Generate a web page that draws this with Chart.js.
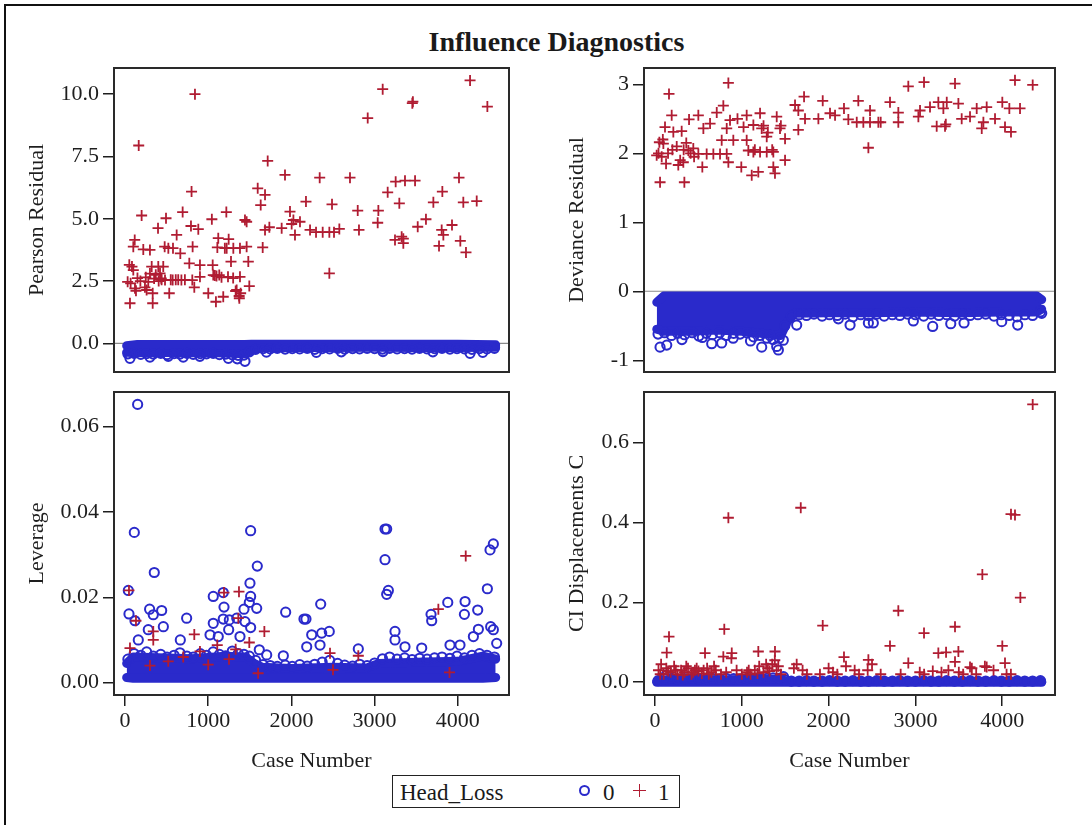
<!DOCTYPE html>
<html>
<head>
<meta charset="utf-8">
<title>Influence Diagnostics</title>
<script src="https://cdn.jsdelivr.net/npm/chart.js@4.4.1/dist/chart.umd.min.js"></script>
<style>
  html, body { margin: 0; padding: 0; background: #fff; }
  body { width: 1092px; height: 825px; position: relative; overflow: hidden; font-family: "Liberation Serif", "Times New Roman", serif; color: #1a1a1a; }
  .frame { position: absolute; left: 4px; top: 4px; width: 1200px; height: 900px; border-left: 2px solid #111; border-top: 2px solid #111; }
  .title { position: absolute; left: 0; width: 1113px; top: 28px; text-align: center; font-weight: bold; font-size: 28px; line-height: 28px; }
  canvas.panel { position: absolute; }
  .legend { position: absolute; left: 392px; top: 775px; width: 288px; height: 33px; border: 1.5px solid #222; box-sizing: border-box; font-size: 23px; line-height: 23px; }
  .legend span { position: absolute; }
  .lg-circle { width: 7px; height: 7px; border: 2px solid #2a2acb; border-radius: 50%; }
  .lg-plus { width: 13px; height: 13px; }
  .lg-plus::before, .lg-plus::after { content: ""; position: absolute; background: #b01c32; }
  .lg-plus::before { left: 0; top: 5.5px; width: 13px; height: 1.8px; }
  .lg-plus::after { left: 5.5px; top: 0; width: 1.8px; height: 13px; }
</style>
</head>
<body>
<div class="frame"></div>
<div class="title">Influence Diagnostics</div>
<div class="legend">
  <span style="left:7px;top:5px">Head_Loss</span>
  <span class="lg-circle" style="left:186px;top:9px"></span>
  <span style="left:210px;top:5px">0</span>
  <span class="lg-plus" style="left:240px;top:8px"></span>
  <span style="left:265px;top:5px">1</span>
</div>
<script>
const caseTicks = [0, 1000, 2000, 3000, 4000];
const pearsonTicks = [0, 2.5, 5, 7.5, 10];
const devianceTicks = [-1, 0, 1, 2, 3];
const leverageTicks = [0, 0.02, 0.04, 0.06];
const ciTicks = [0, 0.2, 0.4, 0.6];

// Head_Loss = 0: the dense band (centre envelope) + ring marks on its ragged edge
const edgeCases = [35, 110, 190, 260, 340, 430, 505, 590, 660, 745,
  820, 905, 980, 1060, 1135, 1210, 1290, 1360, 1430, 1495,
  1570, 1660, 1745, 1830, 1925, 2010, 2100, 2190, 2280, 2370,
  2460, 2555, 2640, 2735, 2820, 2910, 3000, 3095, 3180, 3270,
  3360, 3450, 3540, 3630, 3720, 3810, 3905, 3990, 4080, 4170,
  4260, 4350, 4440];

const pearsonBandCase = [20, 150, 400, 700, 1000, 1300, 1440, 1520, 1620, 2000, 2500, 3000, 3500, 4000, 4455];
const pearsonBandTop = [-0.10, -0.05, -0.05, -0.05, -0.05, -0.05, -0.05, -0.04, -0.04, -0.04, -0.04, -0.04, -0.04, -0.04, -0.06];
const pearsonBandBot = [-0.36, -0.38, -0.36, -0.38, -0.37, -0.40, -0.42, -0.28, -0.18, -0.17, -0.17, -0.16, -0.17, -0.17, -0.16];
const pearsonEdge = [-0.42, -0.40, -0.44, -0.41, -0.43, -0.40, -0.45, -0.41, -0.43, -0.40,
  -0.44, -0.41, -0.42, -0.40, -0.45, -0.43, -0.46, -0.48, -0.47, -0.34,
  -0.24, -0.21, -0.22, -0.20, -0.23, -0.21, -0.22, -0.20, -0.24, -0.21,
  -0.22, -0.20, -0.23, -0.21, -0.22, -0.20, -0.21, -0.23, -0.20, -0.22,
  -0.21, -0.23, -0.20, -0.22, -0.21, -0.20, -0.23, -0.21, -0.22, -0.24,
  -0.21, -0.22, -0.20];
const pearsonBlue = [[60, -0.60], [300, -0.55], [520, -0.52], [700, -0.55], [900, -0.52], [1242, -0.60], [1350, -0.62],
  [1442, -0.72], [1700, -0.35], [2300, -0.36], [2600, -0.34], [3100, -0.33], [3700, -0.34], [4147, -0.40], [4300, -0.36]];

const devianceBandCase = [20, 100, 400, 700, 1000, 1300, 1450, 1520, 1600, 2000, 2500, 3000, 3500, 4000, 4400, 4455];
const devianceBandTop = [-0.16, -0.07, -0.07, -0.07, -0.07, -0.07, -0.07, -0.07, -0.07, -0.07, -0.07, -0.07, -0.07, -0.07, -0.07, -0.12];
const devianceBandBot = [-0.55, -0.58, -0.58, -0.56, -0.58, -0.62, -0.64, -0.45, -0.32, -0.31, -0.31, -0.30, -0.31, -0.30, -0.30, -0.26];
const devianceEdge = [-0.62, -0.60, -0.64, -0.61, -0.63, -0.60, -0.65, -0.61, -0.63, -0.60,
  -0.64, -0.61, -0.62, -0.60, -0.66, -0.64, -0.68, -0.70, -0.68, -0.50,
  -0.36, -0.34, -0.35, -0.33, -0.36, -0.34, -0.35, -0.33, -0.37, -0.34,
  -0.35, -0.33, -0.36, -0.34, -0.35, -0.33, -0.34, -0.36, -0.33, -0.35,
  -0.34, -0.36, -0.33, -0.35, -0.34, -0.33, -0.36, -0.34, -0.35, -0.37,
  -0.34, -0.35, -0.30];
const devianceBlue = [[58, -0.81], [135, -0.78], [310, -0.70], [545, -0.67], [653, -0.76], [768, -0.75], [900, -0.68],
  [1100, -0.72], [1229, -0.81], [1325, -0.64], [1402, -0.80], [1421, -0.85], [1478, -0.71], [1632, -0.49],
  [2112, -0.40], [2247, -0.49], [2458, -0.46], [2515, -0.46], [2976, -0.43], [3199, -0.51], [3407, -0.47],
  [3560, -0.46], [3994, -0.44], [4178, -0.49], [4455, -0.32]];

const leverageBandCase = [20, 100, 400, 800, 1200, 1450, 1550, 1650, 2000, 2500, 2900, 3050, 3500, 4000, 4300, 4455];
const leverageBandTop = [0.0045, 0.0060, 0.0058, 0.0056, 0.0062, 0.0060, 0.0045, 0.0036, 0.0033, 0.0036, 0.0034, 0.0045, 0.0048, 0.0050, 0.0062, 0.0055];
const leverageBandBot = [0.0012, 0.0010, 0.0010, 0.0010, 0.0010, 0.0010, 0.0010, 0.0010, 0.0010, 0.0010, 0.0010, 0.0010, 0.0010, 0.0010, 0.0010, 0.0012];
const leverageEdge = [0.0055, 0.0068, 0.0064, 0.0072, 0.0062, 0.0066, 0.0060, 0.0064, 0.0070, 0.0062,
  0.0060, 0.0068, 0.0064, 0.0072, 0.0066, 0.0063, 0.0074, 0.0068, 0.0066, 0.0062,
  0.0052, 0.0042, 0.0040, 0.0038, 0.0041, 0.0038, 0.0042, 0.0039, 0.0043, 0.0048,
  0.0052, 0.0045, 0.0041, 0.0039, 0.0043, 0.0040, 0.0046, 0.0056, 0.0060, 0.0055,
  0.0058, 0.0054, 0.0057, 0.0055, 0.0058, 0.0060, 0.0057, 0.0062, 0.0058, 0.0064,
  0.0068, 0.0064, 0.0060];
const leverageBlue = [[152, 0.0652], [112, 0.0352], [352, 0.0258], [40, 0.0216], [48, 0.0161], [120, 0.0145], [296, 0.0172],
  [340, 0.0159], [441, 0.0169], [461, 0.0131], [280, 0.0124], [160, 0.0100], [741, 0.0151], [665, 0.0100],
  [1061, 0.0202], [1181, 0.0211], [1061, 0.0139], [1190, 0.0177], [1181, 0.0149], [1254, 0.0147], [1246, 0.0124],
  [1022, 0.0112], [1121, 0.0108], [1343, 0.0151], [1382, 0.0108], [1430, 0.0172], [1502, 0.0233], [1510, 0.0202],
  [1494, 0.0188], [1510, 0.0356], [1590, 0.0273], [1583, 0.0174], [1510, 0.0129], [1442, 0.0143], [1614, 0.0077],
  [1703, 0.0065], [1931, 0.0165], [1903, 0.0063], [2151, 0.0149], [2175, 0.0149], [2184, 0.0084], [2244, 0.0112],
  [2352, 0.0184], [2364, 0.0116], [2455, 0.0120], [2344, 0.0088], [2804, 0.0079], [3125, 0.0360], [3145, 0.0360],
  [3125, 0.0288], [3145, 0.0207], [3165, 0.0216], [3245, 0.0120], [3245, 0.0100], [3365, 0.0084], [3566, 0.0081],
  [3678, 0.0160], [3686, 0.0145], [3879, 0.0188], [4087, 0.0190], [4079, 0.0160], [4239, 0.0170], [4247, 0.0125],
  [4187, 0.0108], [4355, 0.0220], [4387, 0.0311], [4427, 0.0325], [4395, 0.0131], [4427, 0.0124], [4467, 0.0092],
  [3906, 0.0088], [4026, 0.0088]];

const ciBandCase = [20, 200, 800, 1400, 1550, 2500, 3500, 4455];
const ciBandTop = [0.002, 0.008, 0.006, 0.008, 0.002, 0.002, 0.002, 0.002];
const ciBandBot = [0.000, 0.000, 0.000, 0.000, 0.000, 0.000, 0.000, 0.000];
const ciEdge = [0.004, 0.009, 0.010, 0.008, 0.009, 0.010, 0.008, 0.009, 0.010, 0.008,
  0.010, 0.009, 0.008, 0.009, 0.010, 0.009, 0.010, 0.011, 0.010, 0.006,
  0.003, 0.003, 0.004, 0.003, 0.003, 0.004, 0.003, 0.003, 0.004, 0.003,
  0.003, 0.004, 0.003, 0.003, 0.004, 0.003, 0.003, 0.004, 0.003, 0.003,
  0.004, 0.003, 0.003, 0.004, 0.003, 0.003, 0.004, 0.003, 0.003, 0.004,
  0.003, 0.003, 0.004];
const ciBlue = [[130, 0.018], [1480, 0.014]];

// Head_Loss = 1
const pearsonRed = [[841, 10.0], [165, 7.94], [200, 5.13], [117, 4.15], [100, 3.88], [220, 3.77], [300, 3.75], [52, 3.15],
  [84, 3.08], [100, 2.94], [32, 2.47], [68, 2.41], [120, 2.21], [132, 2.11], [60, 1.61], [333, 1.61], [321, 3.08],
  [280, 2.47], [260, 2.14], [333, 2.01], [397, 4.62], [493, 5.02], [400, 3.08], [421, 2.81], [460, 3.08], [436, 2.61],
  [481, 2.54], [532, 2.01], [477, 3.88], [521, 3.82], [621, 4.35], [577, 3.82], [665, 3.61], [693, 5.27], [573, 2.54],
  [678, 2.54], [773, 3.21], [800, 6.09], [793, 4.71], [813, 3.88], [881, 4.58], [901, 3.14], [809, 2.54], [833, 2.25],
  [901, 2.67], [1044, 4.98], [1054, 3.14], [1001, 2.01], [1093, 1.67], [1181, 1.87], [1121, 4.22], [1061, 2.74],
  [1133, 2.74], [1218, 5.27], [1246, 4.18], [1222, 3.82], [1302, 3.82], [1382, 3.82], [1462, 3.88], [1274, 3.28],
  [1238, 2.67], [1382, 2.67], [1342, 2.14], [1374, 1.81], [1390, 2.01], [1442, 4.95], [1462, 4.88], [1482, 3.28],
  [1494, 2.30], [1655, 3.85], [1595, 6.22], [1683, 5.96], [1631, 5.55], [1715, 7.32], [1683, 4.55], [1735, 4.66],
  [1923, 6.76], [1883, 4.62], [1983, 5.29], [2024, 4.95], [2003, 4.79], [2043, 4.35], [2103, 4.88], [2175, 5.69],
  [2224, 4.55], [2296, 4.46], [2376, 4.46], [2456, 4.46], [2512, 4.46], [2576, 4.59], [2340, 6.65], [2488, 5.58],
  [2456, 2.81], [2704, 6.65], [2797, 5.33], [2812, 4.55], [2917, 9.04], [3097, 10.2], [3157, 6.06], [3045, 5.33],
  [3037, 4.84], [3253, 6.49], [3365, 6.53], [3486, 6.53], [3297, 5.62], [3245, 4.15], [3325, 4.28], [3345, 4.02],
  [3453, 9.64], [3518, 4.68], [3617, 4.98], [3706, 5.66], [3814, 6.09], [3806, 4.55], [3826, 4.35], [3774, 3.91],
  [3930, 4.75], [4014, 6.65], [4066, 5.66], [4227, 5.71], [4030, 4.11], [4098, 3.65], [4147, 10.55], [4355, 9.5],
  [150, 2.62], [185, 2.5], [240, 2.25], [250, 2.65], [300, 2.8], [350, 2.6], [370, 2.75], [405, 2.5], [440, 2.55],
  [550, 2.55], [610, 2.55], [640, 2.55], [720, 2.55], [1080, 2.72], [1100, 2.7], [1160, 2.65], [1300, 2.62],
  [1330, 2.1], [1200, 3.82], [1110, 3.85], [3345, 4.2], [3460, 9.7], [1372, 1.9]];

const devianceRed = [[845, 3.02], [161, 2.86], [192, 2.55], [115, 2.38], [211, 2.31], [307, 2.32], [50, 2.16], [96, 2.14],
  [19, 1.97], [77, 1.95], [127, 1.85], [58, 1.58], [338, 1.58], [268, 1.83], [326, 1.87], [384, 2.04], [441, 2.07],
  [499, 1.99], [595, 1.99], [672, 1.99], [749, 1.99], [826, 1.99], [545, 1.80], [392, 2.49], [499, 2.55], [557, 2.36],
  [634, 2.43], [711, 2.59], [787, 2.69], [826, 2.36], [864, 2.48], [768, 2.19], [902, 2.19], [845, 1.87], [994, 1.80],
  [1056, 2.55], [1056, 2.19], [1075, 2.04], [1133, 2.02], [1210, 2.02], [1287, 2.02], [1363, 2.02], [1114, 1.68],
  [1190, 1.73], [1210, 2.58], [1133, 2.41], [1229, 2.36], [1287, 2.24], [1402, 2.53], [1440, 2.36], [1498, 2.21],
  [1363, 1.80], [1382, 1.71], [1498, 1.90], [1613, 2.70], [1651, 2.62], [1717, 2.82], [1728, 2.50], [1651, 2.34],
  [1932, 2.76], [1882, 2.50], [2016, 2.58], [2074, 2.55], [2177, 2.65], [2227, 2.49], [2342, 2.76], [2324, 2.45],
  [2400, 2.45], [2477, 2.45], [2573, 2.45], [2477, 2.62], [2458, 2.08], [2707, 2.74], [2803, 2.59], [2803, 2.45],
  [2918, 2.97], [3099, 3.03], [3034, 2.53], [3053, 2.62], [3168, 2.67], [3264, 2.74], [3361, 2.74], [3245, 2.39],
  [3341, 2.39], [3322, 2.65], [3456, 3.01], [3495, 2.72], [3533, 2.50], [3629, 2.53], [3706, 2.65], [3821, 2.67],
  [3783, 2.45], [3764, 2.36], [3917, 2.50], [4001, 2.74], [4082, 2.65], [4032, 2.38], [4101, 2.31], [4147, 3.06],
  [4205, 2.65], [4351, 2.99], [150, 2.0], [200, 2.05], [250, 2.1], [290, 1.9], [330, 2.05], [360, 2.15], [410, 2.0],
  [450, 1.95], [90, 2.2], [40, 2.0], [1150, 2.05], [1250, 2.4], [1300, 2.3], [1450, 2.4], [1350, 2.05], [2600, 2.45],
  [3350, 2.42], [1020, 2.38], [950, 2.5]];

const leverageRed = [[48, 0.0216], [132, 0.0145], [340, 0.0120], [340, 0.0100], [833, 0.0113], [1190, 0.0211],
  [1370, 0.0213], [1362, 0.0151], [1675, 0.0120], [1109, 0.0088], [1330, 0.0078], [1494, 0.0094], [60, 0.0081],
  [3766, 0.0172], [4095, 0.0297], [2804, 0.0063], [2464, 0.0069], [901, 0.0073], [300, 0.0040], [520, 0.0050],
  [1000, 0.0042], [1600, 0.0022], [2500, 0.0030], [3900, 0.0024], [700, 0.0060], [1250, 0.0055]];

const ciRed = [[4351, 0.696], [1679, 0.437], [845, 0.412], [4101, 0.421], [4147, 0.419], [3771, 0.270], [4209, 0.212],
  [2803, 0.179], [1932, 0.142], [3456, 0.139], [798, 0.133], [3099, 0.123], [161, 0.114], [2707, 0.091], [4001, 0.091],
  [135, 0.074], [576, 0.073], [884, 0.073], [1190, 0.077], [1382, 0.077], [3264, 0.073], [3353, 0.075], [3495, 0.077],
  [2918, 0.048], [3456, 0.051], [3629, 0.038], [3821, 0.038], [4032, 0.048], [2177, 0.063], [2458, 0.056],
  [1632, 0.045], [787, 0.064], [40, 0.030], [70, 0.045], [100, 0.020], [130, 0.035], [180, 0.025], [220, 0.040],
  [260, 0.020], [300, 0.030], [340, 0.025], [380, 0.035], [420, 0.020], [460, 0.030], [500, 0.028], [540, 0.022],
  [600, 0.035], [650, 0.025], [700, 0.030], [760, 0.020], [820, 0.025], [880, 0.060], [940, 0.030], [1000, 0.020],
  [1060, 0.025], [1100, 0.020], [1150, 0.030], [1200, 0.040], [1250, 0.025], [1300, 0.035], [1350, 0.045],
  [1400, 0.030], [1450, 0.020], [1600, 0.035], [1700, 0.030], [1750, 0.020], [1900, 0.020], [2000, 0.035],
  [2050, 0.025], [2100, 0.020], [2200, 0.040], [2300, 0.030], [2350, 0.020], [2450, 0.030], [2500, 0.045],
  [2600, 0.020], [2830, 0.020], [3050, 0.025], [3100, 0.020], [3200, 0.028], [3300, 0.025], [3380, 0.030],
  [3500, 0.025], [3550, 0.020], [3650, 0.035], [3700, 0.020], [3800, 0.040], [3900, 0.030], [4050, 0.020],
  [4100, 0.020], [60, 0.020], [150, 0.028], [240, 0.030], [320, 0.018], [360, 0.040], [440, 0.025], [480, 0.035],
  [560, 0.030], [620, 0.020], [680, 0.040], [1080, 0.030], [1180, 0.022], [1280, 0.045], [1320, 0.028],
  [1380, 0.055], [1420, 0.040]];

const blue = '#2a2acb';
const red = '#b01c32';
const ink = '#1e1e1e';
const serif = '"Liberation Serif", "Times New Roman", serif';

function toPoints(cases, values) {
    return cases.map((c, i) => ({ x: c, y: values[i] }));
}

function pairPoints(pairs) {
    return pairs.map(p => ({ x: p[0], y: p[1] }));
}

const framePlugin = {
    id: 'frame',
    beforeDatasetsDraw(chart, args, opts) {
        if (opts.refLine === undefined) return;
        const { ctx, chartArea } = chart;
        const y = chart.scales.y.getPixelForValue(opts.refLine);
        ctx.save();
        ctx.strokeStyle = '#8a8a8a';
        ctx.lineWidth = 1.2;
        ctx.beginPath();
        ctx.moveTo(chartArea.left, y);
        ctx.lineTo(chartArea.right, y);
        ctx.stroke();
        ctx.restore();
    },
    afterDraw(chart) {
        const { ctx, chartArea: a } = chart;
        ctx.save();
        ctx.strokeStyle = '#2a2a2a';
        ctx.lineWidth = 2;
        ctx.strokeRect(a.left, a.top, a.right - a.left, a.bottom - a.top);
        ctx.restore();
    }
};

function makePanel(p) {
    const canvas = document.createElement('canvas');
    canvas.className = 'panel';
    canvas.width = p.width;
    canvas.height = p.height;
    canvas.style.left = p.left + 'px';
    canvas.style.top = p.top + 'px';
    document.body.appendChild(canvas);

    const bandLine = {
        type: 'line', showLine: true, pointRadius: 0, borderColor: blue, borderWidth: 9,
        borderCapStyle: 'round', borderJoinStyle: 'round', tension: 0, order: 3
    };

    new Chart(canvas.getContext('2d'), {
        type: 'scatter',
        data: {
            datasets: [
                Object.assign({ data: toPoints(p.band[0], p.band[1]), fill: false }, bandLine),
                Object.assign({ data: toPoints(p.band[0], p.band[2]), fill: '-1', backgroundColor: blue }, bandLine),
                {
                    data: toPoints(edgeCases, p.edge).concat(pairPoints(p.blue)),
                    pointStyle: 'circle', pointRadius: 4.6, borderWidth: 2,
                    borderColor: blue, backgroundColor: 'rgba(0,0,0,0)', order: 2
                },
                {
                    data: pairPoints(p.red),
                    pointStyle: 'cross', pointRadius: 5.5, borderWidth: 1.8,
                    borderColor: red, backgroundColor: red, order: 1
                }
            ]
        },
        options: {
            responsive: false,
            animation: false,
            events: [],
            layout: { padding: { left: 0, right: 11, top: 20, bottom: p.showX ? 0 : 20 } },
            plugins: {
                legend: { display: false },
                tooltip: { enabled: false },
                frame: { refLine: p.refLine }
            },
            scales: {
                x: {
                    type: 'linear', min: p.xRange[0], max: p.xRange[1], display: p.showX,
                    afterBuildTicks: s => { s.ticks = caseTicks.map(v => ({ value: v })); },
                    afterFit: s => { if (p.showX) s.height = 80; },
                    grid: { drawOnChartArea: false, drawTicks: true, tickLength: 11, color: ink, lineWidth: 1.5 },
                    border: { display: false },
                    ticks: { color: ink, font: { family: serif, size: 22 }, padding: 2, maxRotation: 0, autoSkip: false, callback: v => String(v) },
                    title: { display: true, text: 'Case Number', color: ink, font: { family: serif, size: 22 }, padding: { top: 0, bottom: 1 } }
                },
                y: {
                    type: 'linear', min: p.yRange[0], max: p.yRange[1],
                    afterBuildTicks: s => { s.ticks = p.yTicks.map(v => ({ value: v })); },
                    afterFit: s => { s.width = p.axisWidth; },
                    grid: { drawOnChartArea: false, drawTicks: true, tickLength: 11, color: ink, lineWidth: 1.5 },
                    border: { display: false },
                    ticks: { color: ink, font: { family: serif, size: 22 }, padding: 4, callback: v => v.toFixed(p.decimals) },
                    title: { display: true, text: p.yTitle, color: ink, font: { family: serif, size: 22 }, padding: { top: 14, bottom: 0 } }
                }
            }
        },
        plugins: [framePlugin]
    });
}

makePanel({
    left: 10, top: 48, width: 510, height: 344, axisWidth: 104, showX: false,
    xRange: [-132, 4615], yRange: [-1.15, 11.05], yTicks: pearsonTicks, decimals: 1,
    yTitle: 'Pearson Residual', refLine: 0,
    band: [pearsonBandCase, pearsonBandTop, pearsonBandBot], edge: pearsonEdge, blue: pearsonBlue, red: pearsonRed
});

makePanel({
    left: 550, top: 48, width: 516, height: 344, axisWidth: 94, showX: false,
    xRange: [-127, 4608], yRange: [-1.17, 3.236], yTicks: devianceTicks, decimals: 0,
    yTitle: 'Deviance Residual', refLine: 0,
    band: [devianceBandCase, devianceBandTop, devianceBandBot], edge: devianceEdge, blue: devianceBlue, red: devianceRed
});

makePanel({
    left: 10, top: 372, width: 510, height: 403, axisWidth: 104, showX: true,
    xRange: [-132, 4615], yRange: [-0.0029, 0.0681], yTicks: leverageTicks, decimals: 2,
    yTitle: 'Leverage',
    band: [leverageBandCase, leverageBandTop, leverageBandBot], edge: leverageEdge, blue: leverageBlue, red: leverageRed
});

makePanel({
    left: 550, top: 372, width: 516, height: 403, axisWidth: 94, showX: true,
    xRange: [-127, 4608], yRange: [-0.032, 0.727], yTicks: ciTicks, decimals: 1,
    yTitle: 'CI Displacements C',
    band: [ciBandCase, ciBandTop, ciBandBot], edge: ciEdge, blue: ciBlue, red: ciRed
});
</script>
</body>
</html>
